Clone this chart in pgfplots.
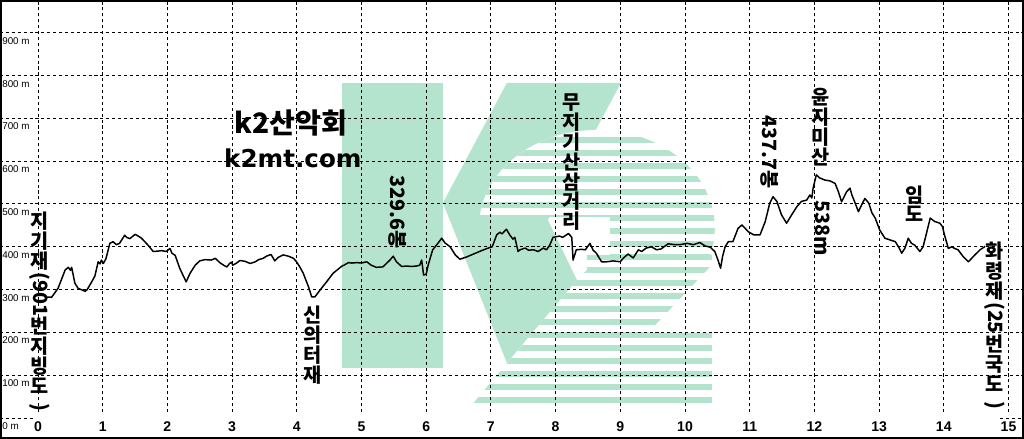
\documentclass[border=0pt]{standalone}
\usepackage{pgfplots}
\pgfplotsset{compat=1.18}
\usepackage{graphicx}
\usepackage{fontspec}
\setmainfont{Liberation Sans}
\newfontfamily\kr{Noto Sans CJK KR}
\newfontfamily\dv{DejaVu Sans}
\definecolor{wm}{RGB}{181,228,206}
\newcommand{\rt}[1]{\rotatebox[origin=c]{-90}{#1}}
\begin{document}
\begin{tikzpicture}
% ---- watermark (pixel coordinates of the picture) ----
\begin{scope}[shift={(0cm,10.975cm)}, x=0.025cm, y=-0.025cm]
 \begin{scope}
  \clip (587,255) -- (712,255) -- (712,265) -- (648,333) -- (712,333) -- (712,405) -- (472,405) -- (577,280) -- (587,270) -- cycle;
  \foreach \k in {0,...,20} {\fill[wm] (440,{137+13*\k}) rectangle (720,{143+13*\k});}
 \end{scope}
 \fill[wm] (342,83) rectangle (443,368);
 \fill[wm] (507,83) -- (621,83) -- (548,220) -- (577,280) -- (507,363) -- (443,203) -- cycle;
 \begin{scope}
  \clip (470,100) -- (720,100) -- (720,262) -- (610,262) -- (610,217) -- (470,217) -- cycle;
  \clip (597,228) ellipse [x radius=118, y radius=98];
  \fill[white] (470,100) rectangle (720,262);
  \foreach \k in {0,...,20} {\fill[wm] (440,{137+13*\k}) rectangle (720,{143+13*\k});}
 \end{scope}
\end{scope}
\begin{axis}[
  at={(0,0)}, anchor=south west, scale only axis,
  width=25.6cm, height=10.975cm,
  xmin=-0.5873, xmax=15.2396, ymin=-49.07, ymax=976.6,
  axis line style={line width=2.8pt, black},
  xtick=\empty, ytick=\empty,
]
% grid lines
\pgfplotsinvokeforeach{0,...,15}{
  \draw[black, line width=0.7pt, dash pattern=on 2.2pt off 2pt] (axis cs:#1,14) -- (axis cs:#1,976.6);
}
\pgfplotsinvokeforeach{100,200,...,900}{
  \draw[black, line width=0.7pt, dash pattern=on 2.2pt off 2pt] (axis cs:-0.5873,#1) -- (axis cs:15.2396,#1);
}
\draw[black, line width=0.7pt, dash pattern=on 2.2pt off 2pt] (axis cs:-0.5873,0) -- (axis cs:-0.08,0);
\draw[black, line width=0.7pt, dash pattern=on 2.2pt off 2pt] (axis cs:14.87,0) -- (axis cs:15.2396,0);
% tick labels
\pgfplotsinvokeforeach{0,...,15}{
  \node[font=\bfseries\fontsize{10}{12}\selectfont, inner sep=0] at (axis cs:#1,-21) {#1};
}
\pgfplotsinvokeforeach{0,100,...,900}{
  \node[font=\fontsize{7}{8}\selectfont, inner sep=0, anchor=west] at (axis cs:-0.556,#1-19) {#1 m};
}
% elevation profile
\addplot[black, line width=1.05pt, line join=round] coordinates {
(0.10,283) (0.21,282) (0.31,303) (0.42,346) (0.47,352) (0.50,345) (0.52,352) (0.57,315)
(0.62,303) (0.73,296) (0.76,300) (0.83,318) (0.88,332) (0.93,365) (0.96,360) (0.98,369)
(1.01,361) (1.05,372) (1.11,408) (1.16,412) (1.21,405) (1.26,408) (1.34,427) (1.37,422)
(1.42,419) (1.50,429) (1.55,425) (1.60,420) (1.65,412) (1.70,404) (1.78,389) (1.86,390)
(1.91,391) (1.98,389) (2.04,396) (2.07,385) (2.12,380) (2.19,350) (2.29,318) (2.35,338)
(2.43,357) (2.50,367) (2.58,370) (2.68,369) (2.74,373) (2.81,363) (2.89,355) (2.92,353)
(2.96,361) (2.99,364) (3.01,357) (3.07,362) (3.12,368) (3.20,366) (3.28,361) (3.36,365)
(3.41,370) (3.48,373) (3.53,378) (3.60,382) (3.63,375) (3.66,367) (3.71,375) (3.79,381)
(3.87,378) (3.95,373) (4.00,364) (4.05,352) (4.10,338) (4.18,307) (4.23,283) (4.28,283)
(4.36,299) (4.46,318) (4.56,338) (4.69,354) (4.80,363) (4.85,362) (4.93,363) (5.00,362)
(5.08,365) (5.15,357) (5.23,352) (5.33,353) (5.44,369) (5.49,378) (5.54,365) (5.62,354)
(5.70,355) (5.77,354) (5.85,355) (5.90,357) (5.93,369) (5.96,334) (6.00,336) (6.03,357)
(6.10,393) (6.16,404) (6.24,420) (6.29,409) (6.37,400) (6.45,381) (6.52,371) (6.62,376)
(6.73,383) (6.84,390) (6.94,396) (7.02,400) (7.04,408) (7.09,428) (7.14,434) (7.17,430)
(7.24,441) (7.29,428) (7.34,418) (7.37,422) (7.42,389) (7.45,393) (7.53,397) (7.58,392)
(7.66,393) (7.73,389) (7.81,397) (7.86,393) (7.91,404) (7.96,422) (8.06,425) (8.11,422)
(8.20,431) (8.25,422) (8.27,369) (8.32,393) (8.40,394) (8.46,393) (8.53,408) (8.58,392)
(8.63,385) (8.71,365) (8.79,365) (8.89,367) (9.00,365) (9.05,374) (9.12,383) (9.20,374)
(9.28,393) (9.33,389) (9.40,397) (9.48,400) (9.56,393) (9.63,395) (9.74,407) (9.84,405)
(9.92,405) (10.03,408) (10.13,405) (10.23,410) (10.31,402) (10.39,399) (10.46,389) (10.51,369)
(10.55,350) (10.58,377) (10.62,400) (10.67,412) (10.74,412) (10.82,443) (10.88,451) (10.93,443)
(10.98,435) (11.06,428) (11.16,428) (11.24,459) (11.31,502) (11.36,517) (11.42,506) (11.49,475)
(11.57,455) (11.65,475) (11.73,494) (11.80,506) (11.88,509) (11.93,521) (11.96,514) (11.98,537)
(12.03,568) (12.08,561) (12.16,556) (12.24,554) (12.32,548) (12.37,529) (12.42,505) (12.50,529)
(12.55,537) (12.58,521) (12.63,502) (12.68,482) (12.73,498) (12.78,513) (12.84,502) (12.89,479)
(12.94,467) (13.01,439) (13.09,420) (13.17,416) (13.25,412) (13.30,400) (13.35,385) (13.40,397)
(13.45,420) (13.50,408) (13.55,404) (13.63,389) (13.68,400) (13.72,424) (13.79,467) (13.86,459)
(13.94,455) (13.98,447) (14.01,428) (14.07,396) (14.12,400) (14.17,396) (14.22,393) (14.30,377)
(14.38,365) (14.48,381) (14.56,393) (14.64,401)
};
% annotations
\tikzset{vlab/.style={font=\kr\bfseries\fontsize{14}{14.2}\selectfont, align=center, inner sep=0, anchor=north}}
\node[vlab] at (axis cs:0.03,481) {지\\기\\재\\\rt{(901}\\번\\지\\빙\\도\\\rt{)}};
\node[vlab] at (axis cs:4.25,262) {신\\의\\터\\재};
\node[vlab] at (axis cs:8.25,759) {무\\지\\기\\산\\삼\\거\\리};
\node[vlab] at (axis cs:12.09,771) {윤\\지\\미\\산};
\node[vlab] at (axis cs:13.55,544) {임\\도};
\node[vlab] at (axis cs:14.79,411) {화\\령\\재\\\rt{(25}\\번\\국\\도\\\rt{)}};
\node[font=\kr\bfseries\fontsize{14}{14}\selectfont, rotate=-90, anchor=west, inner sep=0] at (axis cs:5.55,568) {329.6봉};
\node[font=\kr\bfseries\fontsize{14}{14}\selectfont, rotate=-90, anchor=west, inner sep=0] at (axis cs:11.31,708) {437.7봉};
\node[font=\kr\bfseries\fontsize{14}{14}\selectfont, rotate=-90, anchor=west, inner sep=0] at (axis cs:12.12,509) {538m};
\node[font=\kr\bfseries\fontsize{20}{22}\selectfont, inner sep=0] at (axis cs:3.91,690) {k2산악회};
\node[font=\dv\bfseries\fontsize{17.5}{20}\selectfont, inner sep=0] at (axis cs:3.94,607) {k2mt.com};
\end{axis}
\pgfresetboundingbox
\path[use as bounding box] (0,0) rectangle (25.6cm,10.975cm);
\end{tikzpicture}
\end{document}
